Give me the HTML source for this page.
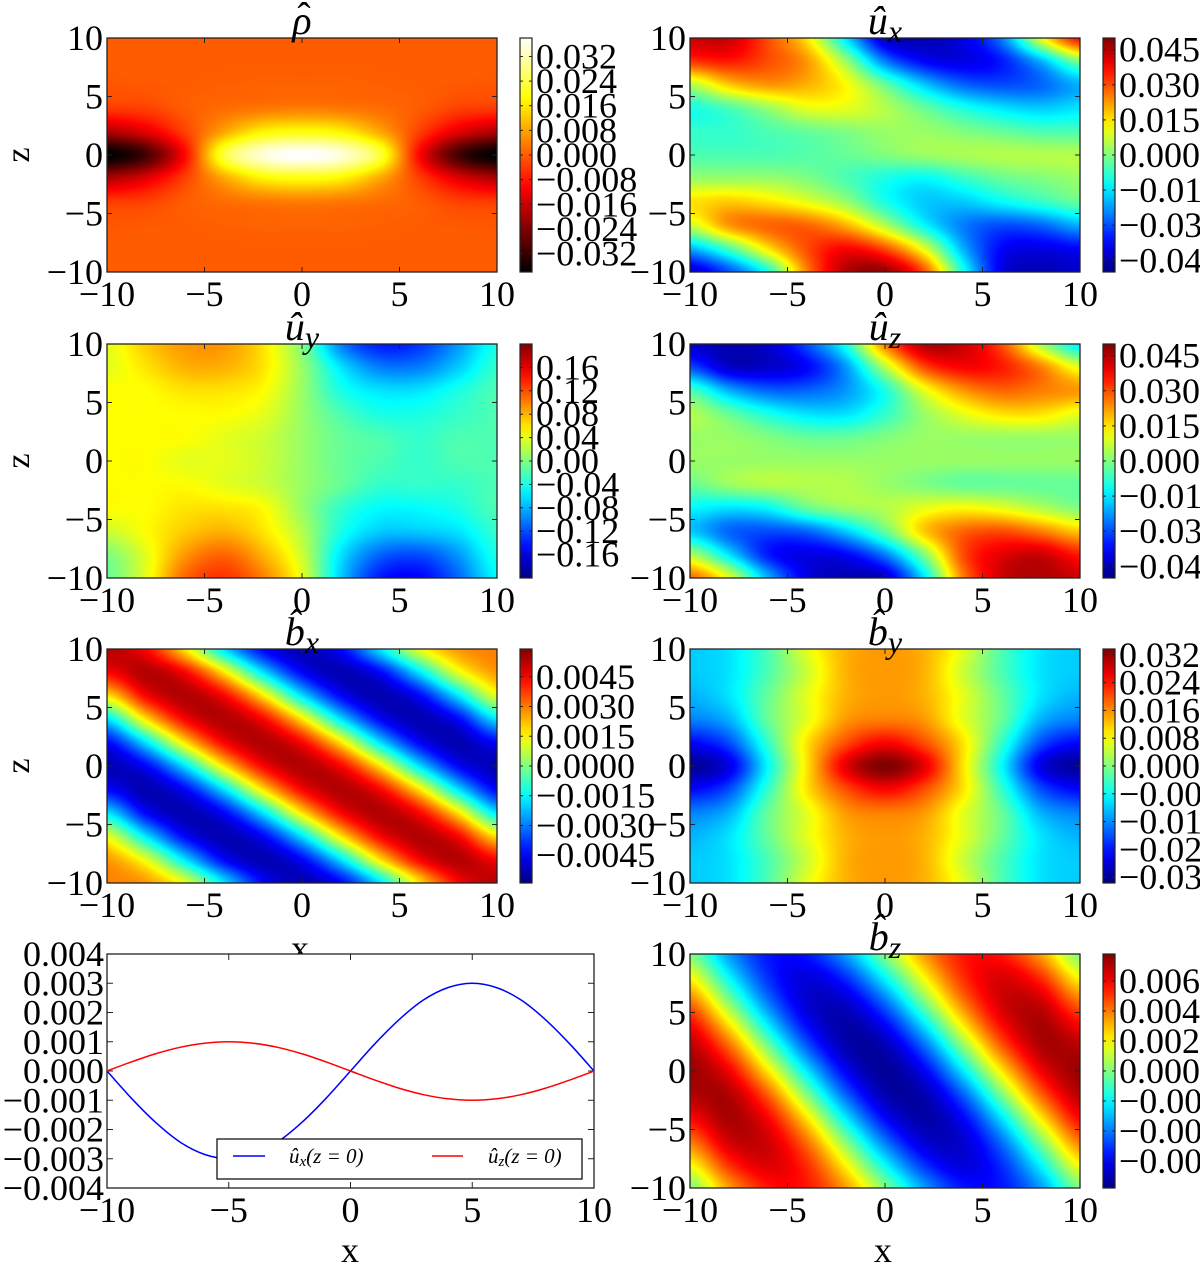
<!DOCTYPE html>
<html><head><meta charset="utf-8">
<style>
html,body{margin:0;padding:0;background:#fff;width:1200px;height:1271px;overflow:hidden;position:relative}
canvas{position:absolute}
svg{position:absolute;left:0;top:0}
text{font-family:"Liberation Serif",serif;fill:#000}
</style></head>
<body>
<svg id="fig" width="1200" height="1271"></svg>
<script>
// ---------- data (normalized to colorbar range, rows z=10..-10 step 2, cols x=-10..10 step 2) ----------
const gridX = [-10,-8,-6,-4,-2,0,2,4,6,8,10];
const gridZ = [10,8,6,4,2,0,-2,-4,-6,-8,-10];
const rhoVmax = 0.038;
const rhoGrid = [
[0,0,0,0,0,0,0,0,0,0,0],
[0,0,0,0,0,0,0,0,0,0,0],
[-0.02,-0.01,0,0.01,0.02,0.02,0.02,0.01,0,-0.01,-0.02],
[-0.1,-0.08,0,0.05,0.08,0.1,0.08,0.05,0,-0.08,-0.1],
[-0.5,-0.35,-0.08,0.22,0.45,0.5,0.45,0.22,-0.08,-0.35,-0.5],
[-1,-0.8,-0.25,0.6,0.92,1,0.92,0.6,-0.25,-0.8,-1],
[-0.5,-0.35,-0.08,0.22,0.45,0.5,0.45,0.22,-0.08,-0.35,-0.5],
[-0.1,-0.08,0,0.05,0.08,0.1,0.08,0.05,0,-0.08,-0.1],
[-0.02,-0.01,0,0.01,0.02,0.02,0.02,0.01,0,-0.01,-0.02],
[0,0,0,0,0,0,0,0,0,0,0],
[0,0,0,0,0,0,0,0,0,0,0]];
const uxVmax = 0.05;
const uxGrid = [
[0.85,0.85,0.6,0.3,-0.3,-0.85,-0.9,-0.8,-0.5,0.2,0.75],
[0.65,0.7,0.6,0.45,0.05,-0.5,-0.75,-0.8,-0.7,-0.4,0.0],
[0.1,0.35,0.45,0.4,0.25,-0.05,-0.35,-0.55,-0.6,-0.55,-0.4],
[-0.2,-0.1,0.05,0.2,0.2,0.1,-0.05,-0.2,-0.3,-0.35,-0.3],
[-0.15,-0.15,-0.1,-0.05,0.0,0.05,0.05,0.0,-0.05,-0.1,-0.1],
[-0.1,-0.1,-0.1,-0.08,-0.05,0.0,0.05,0.08,0.1,0.1,0.1],
[0.05,0.05,0.05,0.0,-0.1,-0.2,-0.25,-0.15,-0.05,0.0,0.05],
[0.3,0.35,0.3,0.2,0.05,-0.2,-0.35,-0.35,-0.25,-0.15,-0.05],
[0.15,0.45,0.55,0.55,0.4,0.1,-0.25,-0.5,-0.6,-0.55,-0.4],
[-0.4,-0.1,0.3,0.6,0.75,0.6,0.2,-0.4,-0.75,-0.8,-0.75],
[-0.85,-0.6,-0.2,0.5,0.9,0.95,0.6,-0.2,-0.8,-0.9,-0.85]];
const uyVmax = 0.2;
const uyGrid = [
[0.2,0.35,0.45,0.45,0.3,0.0,-0.5,-0.7,-0.65,-0.45,-0.2],
[0.2,0.3,0.4,0.4,0.3,0.05,-0.3,-0.5,-0.5,-0.35,-0.15],
[0.25,0.25,0.3,0.3,0.25,0.05,-0.2,-0.3,-0.3,-0.2,-0.1],
[0.25,0.25,0.25,0.25,0.2,0.05,-0.1,-0.2,-0.2,-0.15,-0.1],
[0.25,0.25,0.25,0.2,0.15,0.05,-0.05,-0.1,-0.15,-0.1,-0.1],
[0.25,0.25,0.2,0.2,0.15,0.05,-0.05,-0.1,-0.15,-0.1,-0.1],
[0.25,0.25,0.25,0.2,0.15,0.05,-0.05,-0.15,-0.15,-0.15,-0.1],
[0.25,0.25,0.3,0.3,0.25,0.05,-0.15,-0.25,-0.25,-0.2,-0.1],
[0.15,0.25,0.35,0.4,0.3,0.1,-0.2,-0.35,-0.35,-0.3,-0.15],
[0.0,0.2,0.45,0.55,0.4,0.15,-0.3,-0.55,-0.6,-0.45,-0.2],
[-0.05,0.2,0.55,0.65,0.5,0.2,-0.35,-0.7,-0.75,-0.55,-0.25]];
const uzVmax = 0.05;
const uzGrid = [
[-0.85,-0.9,-0.85,-0.6,-0.2,0.5,0.9,0.85,0.6,0.1,-0.3],
[-0.6,-0.85,-0.85,-0.75,-0.45,0.1,0.6,0.75,0.7,0.5,0.2],
[-0.1,-0.4,-0.55,-0.55,-0.45,-0.2,0.2,0.45,0.55,0.5,0.45],
[0.1,-0.05,-0.2,-0.3,-0.3,-0.15,0.05,0.2,0.3,0.3,0.2],
[0.05,0.05,0.0,-0.05,-0.05,0.0,0.05,0.05,0.05,0.05,0.05],
[0.05,0.05,0.05,0.05,0.05,0.05,0.05,0.05,0.05,0.05,0.05],
[-0.05,0.05,0.1,0.1,0.1,0.05,0.0,-0.05,-0.05,-0.05,-0.05],
[-0.25,-0.3,-0.25,-0.05,0.05,0.1,0.2,0.25,0.2,0.1,0.0],
[-0.35,-0.55,-0.6,-0.55,-0.35,-0.05,0.35,0.55,0.6,0.5,0.35],
[0.1,-0.3,-0.7,-0.8,-0.75,-0.5,0.0,0.6,0.8,0.85,0.7],
[0.55,0.2,-0.4,-0.8,-0.9,-0.85,-0.3,0.5,0.85,0.9,0.85]];
const bxVmax = 0.0059;
const bxGrid = [
[0.9,0.75,0.3,-0.3,-0.75,-0.9,-0.75,-0.3,0.2,0.45,0.5],
[0.75,0.9,0.75,0.3,-0.3,-0.75,-0.9,-0.75,-0.3,0.2,0.45],
[0.3,0.75,0.9,0.75,0.3,-0.3,-0.75,-0.9,-0.75,-0.3,0.2],
[-0.3,0.3,0.75,0.9,0.75,0.3,-0.3,-0.75,-0.9,-0.75,-0.3],
[-0.75,-0.3,0.3,0.75,0.9,0.75,0.3,-0.3,-0.75,-0.9,-0.75],
[-0.9,-0.75,-0.3,0.3,0.75,0.9,0.75,0.3,-0.3,-0.75,-0.9],
[-0.75,-0.9,-0.75,-0.3,0.3,0.75,0.9,0.75,0.3,-0.3,-0.75],
[-0.3,-0.75,-0.9,-0.75,-0.3,0.3,0.75,0.9,0.75,0.3,-0.3],
[0.2,-0.3,-0.75,-0.9,-0.75,-0.3,0.3,0.75,0.9,0.75,0.3],
[0.45,0.2,-0.3,-0.75,-0.9,-0.75,-0.3,0.3,0.75,0.9,0.75],
[0.5,0.45,0.2,-0.3,-0.75,-0.9,-0.75,-0.3,0.3,0.75,0.9]];
const byVmax = 0.0337;
const byGrid = [
[-0.35,-0.3,-0.1,0.2,0.4,0.45,0.4,0.2,-0.1,-0.3,-0.35],
[-0.35,-0.3,-0.1,0.15,0.4,0.45,0.4,0.15,-0.1,-0.3,-0.35],
[-0.4,-0.3,-0.05,0.2,0.4,0.45,0.4,0.2,-0.05,-0.3,-0.4],
[-0.5,-0.4,-0.05,0.2,0.45,0.5,0.45,0.2,-0.05,-0.4,-0.5],
[-0.75,-0.6,-0.15,0.3,0.6,0.75,0.6,0.3,-0.15,-0.6,-0.75],
[-0.95,-0.8,-0.25,0.3,0.8,1.0,0.8,0.3,-0.25,-0.8,-0.95],
[-0.75,-0.6,-0.15,0.3,0.6,0.75,0.6,0.3,-0.15,-0.6,-0.75],
[-0.5,-0.4,-0.05,0.2,0.45,0.5,0.45,0.2,-0.05,-0.4,-0.5],
[-0.4,-0.3,-0.05,0.2,0.4,0.45,0.4,0.2,-0.05,-0.3,-0.4],
[-0.35,-0.3,-0.1,0.15,0.4,0.45,0.4,0.15,-0.1,-0.3,-0.35],
[-0.35,-0.3,-0.1,0.2,0.4,0.45,0.4,0.2,-0.1,-0.3,-0.35]];
const bzVmax = 0.0078;
const bzGrid = [
[0,-0.44,-0.71,-0.71,-0.44,0,0.44,0.71,0.71,0.44,0],
[0.25,-0.25,-0.66,-0.82,-0.66,-0.25,0.25,0.66,0.82,0.66,0.25],
[0.52,0,-0.52,-0.84,-0.84,-0.52,0,0.52,0.84,0.84,0.52],
[0.75,0.29,-0.29,-0.75,-0.92,-0.75,-0.29,0.29,0.75,0.92,0.75],
[0.9,0.56,0,-0.56,-0.9,-0.9,-0.56,0,0.56,0.9,0.9],
[0.95,0.77,0.29,-0.29,-0.77,-0.95,-0.77,-0.29,0.29,0.77,0.95],
[0.9,0.9,0.56,0,-0.56,-0.9,-0.9,-0.56,0,0.56,0.9],
[0.75,0.92,0.75,0.29,-0.29,-0.75,-0.92,-0.75,-0.29,0.29,0.75],
[0.52,0.84,0.84,0.52,0,-0.52,-0.84,-0.84,-0.52,0,0.52],
[0.25,0.66,0.82,0.66,0.25,-0.25,-0.66,-0.82,-0.66,-0.25,0.25],
[0,0.44,0.71,0.71,0.44,0,-0.44,-0.71,-0.71,-0.44,0]];
// line plot data
const lineX = [-10,-9,-8,-7,-6,-5,-4,-3,-2,-1,0,1,2,3,4,5,6,7,8,9,10];
const uxLine = [0,-0.00093,-0.00176,-0.00243,-0.00285,-0.003,-0.00285,-0.00243,-0.00176,-0.00093,0,0.00093,0.00176,0.00243,0.00285,0.003,0.00285,0.00243,0.00176,0.00093,0];
const uzLine = [0,0.00031,0.00059,0.00081,0.00095,0.001,0.00095,0.00081,0.00059,0.00031,0,-0.00031,-0.00059,-0.00081,-0.00095,-0.001,-0.00095,-0.00081,-0.00059,-0.00031,0];
const lineYTicks = ["0.004","0.003","0.002","0.001","0.000","\u22120.001","\u22120.002","\u22120.003","\u22120.004"];
const xTickLabels = ["\u221210","\u22125","0","5","10"];
const zTickLabels = ["10","5","0","\u22125","\u221210"];
const rhoTicks = ["0.032","0.024","0.016","0.008","0.000","\u22120.008","\u22120.016","\u22120.024","\u22120.032"];
const uxTicks = ["0.045","0.030","0.015","0.000","\u22120.015","\u22120.030","\u22120.045"];
const uyTicks = ["0.16","0.12","0.08","0.04","0.00","\u22120.04","\u22120.08","\u22120.12","\u22120.16"];
const bxTicks = ["0.0045","0.0030","0.0015","0.0000","\u22120.0015","\u22120.0030","\u22120.0045"];
const byTicks = ["0.032","0.024","0.016","0.008","0.000","\u22120.008","\u22120.016","\u22120.024","\u22120.032"];
const bzTicks = ["0.006","0.004","0.002","0.000","\u22120.002","\u22120.004","\u22120.006"];

// ---------- helpers ----------
const NS = "http://www.w3.org/2000/svg";
const svg = document.getElementById('fig');
function mk(tag, attrs, parent){ const e=document.createElementNS(NS,tag); for(const k in attrs) e.setAttribute(k,attrs[k]); (parent||svg).appendChild(e); return e; }
function clip(v){return v<0?0:v>1?1:v;}
function jet(t){
  const r=clip(1.5-Math.abs(4*t-3)), g=clip(1.5-Math.abs(4*t-2)), b=clip(1.5-Math.abs(4*t-1));
  return [r*255,g*255,b*255];
}
function hot(t){ return [clip(t/0.365)*255, clip((t-0.365)/0.375)*255, clip((t-0.74)/0.26)*255]; }
function cubic(p0,p1,p2,p3,t){ return p1+0.5*t*(p2-p0+t*(2*p0-5*p1+4*p2-p3+t*(3*(p1-p2)+p3-p0))); }
function sample(grid,fx,fz){
  const nx=grid[0].length, nz=grid.length;
  const ix=Math.floor(fx), iz=Math.floor(fz), tx=fx-ix, tz=fz-iz;
  const g=(r,c)=>grid[Math.max(0,Math.min(nz-1,r))][Math.max(0,Math.min(nx-1,c))];
  const rows=[];
  for(let j=-1;j<3;j++) rows.push(cubic(g(iz+j,ix-1),g(iz+j,ix),g(iz+j,ix+1),g(iz+j,ix+2),tx));
  return cubic(rows[0],rows[1],rows[2],rows[3],tz);
}
const FONT=36;
function txt(x,y,s,anchor,size,name,parent){
  const t=mk('text',{x:x,y:y,'text-anchor':anchor||'middle','font-size':size||FONT},parent);
  
  
  t.textContent=s; return t;
}
function d3x(L,W){ const f=v=>L+(v+10)/20*W; f.inv=p=>(p-L)/W*20-10; return f; }
function d3z(T,H){ const f=v=>T+(10-v)/20*H; f.inv=p=>10-(p-T)/H*20; return f; }

function heatmap(name,grid,vmax,cmap,L,T,title,sub,cbTicks,cbStep,showZ){
  const W=390,H=234;
  const cv=document.createElement('canvas');
  cv.width=W; cv.height=H; cv.style.left=L+'px'; cv.style.top=T+'px';
  
  
  document.body.insertBefore(cv,svg);
  const ctx=cv.getContext('2d'); const img=ctx.createImageData(W,H);
  const xs=d3x(L,W), zs=d3z(T,H);
  for(let py=0;py<H;py++){
    const z=zs.inv(py+T+0.5);
    const fz=(gridZ[0]-z)/(gridZ[0]-gridZ[1]);
    for(let px=0;px<W;px++){
      const x=xs.inv(px+L+0.5);
      const fx=(x-gridX[0])/(gridX[1]-gridX[0]);
      const v=sample(grid,fx,fz)*vmax;
      const c=cmap((v+vmax)/(2*vmax));
      const i=(py*W+px)*4; img.data[i]=c[0]; img.data[i+1]=c[1]; img.data[i+2]=c[2]; img.data[i+3]=255;
    }
  }
  ctx.putImageData(img,0,0);
  const g=mk('g',{});
  
  
  const fr=mk('rect',{x:L,y:T,width:W,height:H,fill:'none',stroke:'#222','stroke-width':1.3},g);
  
  
  [-10,-5,0,5,10].forEach((v,i)=>{
    const X=xs(v);
    mk('line',{x1:X,y1:T,x2:X,y2:T+5,stroke:'#222'},g); mk('line',{x1:X,y1:T+H,x2:X,y2:T+H-5,stroke:'#222'},g);
    txt(X,T+H+34,xTickLabels[i],'middle',FONT,name+'-x-tick',g);
    const Z=zs([10,5,0,-5,-10][i]);
    mk('line',{x1:L,y1:Z,x2:L+5,y2:Z,stroke:'#222'},g); mk('line',{x1:L+W,y1:Z,x2:L+W-5,y2:Z,stroke:'#222'},g);
    txt(L-4,Z+12,zTickLabels[i],'end',FONT,name+'-z-tick',g);
  });
  // title
  const tt=mk('text',{x:L+W/2,y:T-4,'text-anchor':'middle','font-size':40,'font-style':'italic'},g);
  
  
  tt.textContent=title;
  if(sub){ const ts=mk('tspan',{'font-size':32,dy:8},tt); ts.textContent=sub; }
  else { const hat=txt(L+W/2+2,T-8,'\u02C6','middle',40,name+'-title-hat',g); }
  if(showZ){ const zl=txt(L-88,T+H/2+10,'z','middle',34,name+'-z-axis-title',g); zl.setAttribute('transform','rotate(-90 '+(L-88)+' '+(T+H/2)+')');}
  // colorbar
  const cbx=L+413, cbw=12;
  const gid='grad-'+name;
  const defs=mk('defs',{},g); const lg=mk('linearGradient',{id:gid,x1:0,y1:1,x2:0,y2:0},defs);
  for(let k=0;k<=20;k++){ const c=cmap(k/20); mk('stop',{offset:k/20,'stop-color':'rgb('+c.map(Math.round).join(',')+')'},lg); }
  const cb=mk('rect',{x:cbx,y:T,width:cbw,height:H,fill:'url(#'+gid+')',stroke:'#222','stroke-width':1.2},g);
  
  
  const n=cbTicks.length, mid=(n-1)/2;
  cbTicks.forEach((s,i)=>{
    const v=(mid-i)*cbStep;
    const Y=T+H/2 - v/vmax*(H/2);
    mk('line',{x1:cbx,y1:Y,x2:cbx+3,y2:Y,stroke:'#222'},g); mk('line',{x1:cbx+cbw,y1:Y,x2:cbx+cbw-3,y2:Y,stroke:'#222'},g);
    txt(cbx+cbw+4,Y+12,s,'start',FONT,name+'-colorbar-tick',g);
  });
}

const LX=107, RX=690;
const rows=[38,344,649,954];
heatmap('rho',rhoGrid,rhoVmax,hot,LX,rows[0],'\u03C1','',rhoTicks,0.008,true);
heatmap('ux',uxGrid,uxVmax,jet,RX,rows[0],'\u00FB','x',uxTicks,0.015,false);
heatmap('uy',uyGrid,uyVmax,jet,LX,rows[1],'\u00FB','y',uyTicks,0.04,true);
heatmap('uz',uzGrid,uzVmax,jet,RX,rows[1],'\u00FB','z',uxTicks,0.015,false);
heatmap('bx',bxGrid,bxVmax,jet,LX,rows[2],'b\u0302','x',bxTicks,0.0015,true);
heatmap('by',byGrid,byVmax,jet,RX,rows[2],'b\u0302','y',byTicks,0.008,false);
heatmap('bz',bzGrid,bzVmax,jet,RX,rows[3],'b\u0302','z',bzTicks,0.002,false);

// x labels
txt(300,960,'x','middle',36,'bx-x-axis-title');
txt(350,1262,'x','middle',36,'line-x-axis-title');
txt(883,1262,'x','middle',36,'bz-x-axis-title');

// ---------- line plot ----------
function smoothPath(px,py){
  let d='M'+px[0]+','+py[0];
  for(let i=0;i<px.length-1;i++){
    const i0=Math.max(0,i-1), i3=Math.min(px.length-1,i+2);
    const c1x=px[i]+(px[i+1]-px[i0])/6, c1y=py[i]+(py[i+1]-py[i0])/6;
    const c2x=px[i+1]-(px[i3]-px[i])/6, c2y=py[i+1]-(py[i3]-py[i])/6;
    d+=' C'+c1x+','+c1y+' '+c2x+','+c2y+' '+px[i+1]+','+py[i+1];
  }
  return d;
}
(function(){
  const L=107,T=954,W=487,H=234;
  const sx=v=>L+(v+10)/20*W, sy=v=>T+(0.004-v)/0.008*H;
  const g=mk('g',{});
  
  
  const fr=mk('rect',{x:L,y:T,width:W,height:H,fill:'#fff',stroke:'#222','stroke-width':1.3},g);
  
  
  [-10,-5,0,5,10].forEach((v,i)=>{
    const X=sx(v); mk('line',{x1:X,y1:T,x2:X,y2:T+6,stroke:'#222'},g); mk('line',{x1:X,y1:T+H,x2:X,y2:T+H-6,stroke:'#222'},g);
    txt(X,T+H+34,xTickLabels[i],'middle',FONT,'line-x-tick',g);
  });
  lineYTicks.forEach((s,i)=>{
    const Y=sy(0.004-i*0.001); mk('line',{x1:L,y1:Y,x2:L+6,y2:Y,stroke:'#222'},g); mk('line',{x1:L+W,y1:Y,x2:L+W-6,y2:Y,stroke:'#222'},g);
    txt(L-3,Y+12,s,'end',FONT,'line-y-tick',g);
  });
  const p1=mk('path',{d:smoothPath(lineX.map(sx),uxLine.map(sy)),fill:'none',stroke:'#0000ff','stroke-width':1.5},g);
  
  
  const p2=mk('path',{d:smoothPath(lineX.map(sx),uzLine.map(sy)),fill:'none',stroke:'#ff0000','stroke-width':1.5},g);
  
  
  const lg=mk('g',{},g);
  
  
  mk('rect',{x:217,y:1139,width:365,height:40,fill:'#fff',stroke:'#000','stroke-width':1.2},lg);
  mk('line',{x1:233,y1:1156,x2:265,y2:1156,stroke:'#0000ff','stroke-width':1.5},lg);
  mk('line',{x1:432,y1:1156,x2:463,y2:1156,stroke:'#ff0000','stroke-width':1.5},lg);
  const t1=txt(289,1163,'\u00FB','start',21,'legend-entry-ux',lg); t1.setAttribute('font-style','italic');
  const s1=mk('tspan',{'font-size':15,dy:3},t1); s1.textContent='x';
  const r1=mk('tspan',{'font-size':21,dy:-3},t1); r1.textContent='(z = 0)';
  const t2=txt(488,1163,'\u00FB','start',21,'legend-entry-uz',lg); t2.setAttribute('font-style','italic');
  const s2=mk('tspan',{'font-size':15,dy:3},t2); s2.textContent='z';
  const r2=mk('tspan',{'font-size':21,dy:-3},t2); r2.textContent='(z = 0)';
})();
</script>
</body></html>
